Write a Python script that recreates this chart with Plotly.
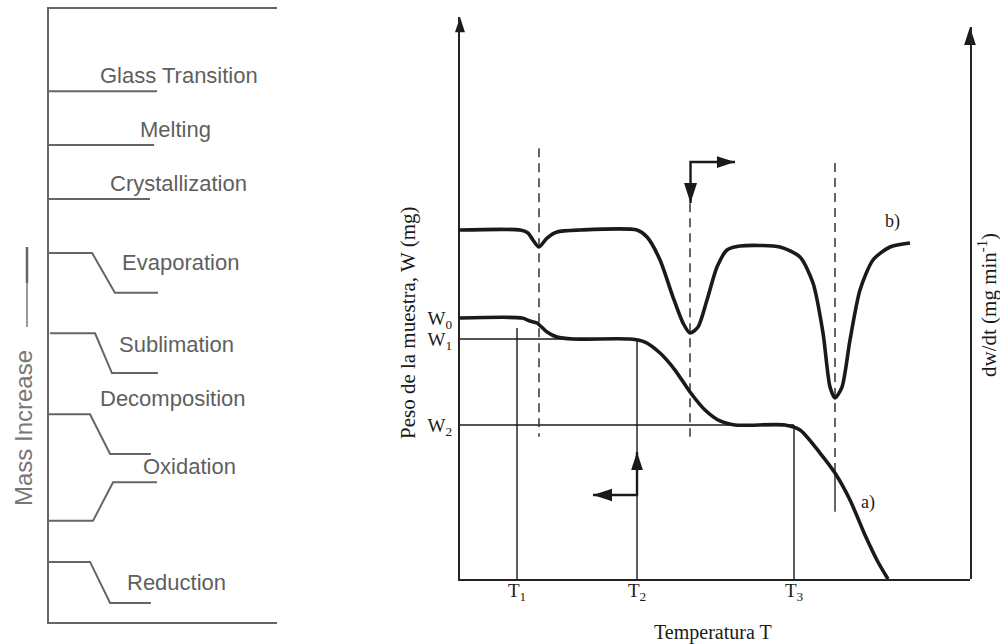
import plotly.graph_objects as go

# ---------------- left panel: idealised TG step shapes ----------------
# temperature axis 0-100, mass axis 0-100 (schematic units)
glass_T = [0, 47.4];              glass_m = [86.6, 86.6]
melting_T = [0, 46.1];            melting_m = [77.8, 77.8]
cryst_T = [0, 44.3];              cryst_m = [69.0, 69.0]
evap_T = [0, 18.9, 28.9, 47.8];   evap_m = [60.2, 60.2, 53.7, 53.7]
subl_T = [0.4, 20.2, 27.6, 47.8]; subl_m = [47.1, 47.1, 40.6, 40.6]
decomp_T = [0, 18.0, 26.8, 44.7]; decomp_m = [33.9, 33.9, 27.4, 27.4]
oxid_T = [0, 19.3, 28.1, 47.4];   oxid_m = [16.5, 16.5, 22.8, 22.8]
red_T = [0, 18.0, 26.8, 44.7];    red_m = [9.8, 9.8, 3.1, 3.1]

step_names = ["Glass Transition", "Melting", "Crystallization", "Evaporation",
              "Sublimation", "Decomposition", "Oxidation", "Reduction"]
step_label_T = [57.0, 55.3, 56.6, 57.5, 56.1, 54.4, 61.8, 56.1]
step_label_m = [89.1, 80.3, 71.6, 58.7, 45.2, 36.5, 25.4, 6.4]

# ---------------- right panel: TG curve a) and DTG curve b) ----------------
tg_T = [0, 12.16, 13.73, 15.1, 17.06, 19.0, 22.2, 33.33, 36.27, 39.22, 42.16,
        45.10, 48.04, 50.98, 53.92, 63.73, 66.67, 70.59, 73.53, 76.47, 79.41,
        81.96, 83.92]
tg_W = [47.37, 47.37, 46.82, 46.46, 44.83, 43.92, 43.56, 43.56, 43.01, 41.02,
        37.93, 33.94, 30.67, 28.68, 27.95, 27.95, 27.04, 22.87, 19.24, 14.34,
        7.99, 3.09, 0]

dtg_T = [0, 11.76, 13.33, 14.31, 15.49, 17.06, 19.02, 23.53, 34.71, 36.67,
         39.22, 41.76, 43.73, 45.10, 46.67, 48.43, 50.39, 52.35, 54.90, 62.75,
         66.67, 69.22, 71.18, 72.55, 73.53, 74.90, 76.47, 78.43, 80.98, 84.31,
         88.24]
dtg_V = [0, 0, -0.027, -0.091, -0.154, -0.073, -0.018, 0, 0, -0.064,
         -0.272, -0.608, -0.844, -0.935, -0.880, -0.635, -0.336, -0.181, -0.145,
         -0.154, -0.245, -0.481, -0.935, -1.425, -1.524, -1.425, -0.998, -0.544,
         -0.272, -0.154, -0.118]

# characteristic temperatures / weights
T_marks = [11.18, 34.71, 65.49]
T_labels = ["T<sub>1</sub>", "T<sub>2</sub>", "T<sub>3</sub>"]
W_marks = [47.37, 43.56, 27.95]
W_labels = ["W<sub>0</sub>", "W<sub>1</sub>", "W<sub>2</sub>"]
W_line_end = [34.71, 65.49]          # W1 and W2 guide lines run to T2 and T3
T_line_top = [45.55, 43.56, 27.95]   # top of the T1, T2, T3 guide lines

# DTG peak temperatures with dashed guide extents
peak_T = [15.49, 45.10, 73.53]
peak_top = [78.2, 68.2, 75.5]
peak_bottom = [25.8, 25.8, 19.8]
peak3_tick = [19.8, 12.2]

# direction arrows: corner point and the two tips
arrow_dtg = dict(T=45.2, W=75.68, T_tip=53.92, W_tip=68.24)
arrow_tg = dict(T=34.71, W=15.25, T_tip=26.08, W_tip=23.05)

W_RANGE = [0, 102]
V_RANGE = [-3.167, 1.842]

SANS = "Liberation Sans, Arial, sans-serif"
SERIF = "Liberation Serif, Times New Roman, serif"
GREY = "#5f5f5f"
INK = "#1a1a1a"
CLEAR = "rgba(0,0,0,0)"

fig = go.Figure()


def line(x, y, xa="x", ya="y", color=INK, width=2, dash=None, shape="linear"):
    fig.add_trace(go.Scatter(x=x, y=y, xaxis=xa, yaxis=ya, mode="lines",
                             line=dict(color=color, width=width, dash=dash,
                                       shape=shape, smoothing=0.7),
                             hoverinfo="skip", showlegend=False))


def arrowhead(x, y, angle, size, xa="x2", ya="y2"):
    fig.add_trace(go.Scatter(x=[x], y=[y], xaxis=xa, yaxis=ya, mode="markers",
                             marker=dict(symbol="arrow", angle=angle, size=size,
                                         color=INK, line=dict(width=0)),
                             cliponaxis=False, hoverinfo="skip", showlegend=False))


# left panel step curves
for xs, ys in [(glass_T, glass_m), (melting_T, melting_m), (cryst_T, cryst_m),
               (evap_T, evap_m), (subl_T, subl_m), (decomp_T, decomp_m),
               (oxid_T, oxid_m), (red_T, red_m)]:
    line(xs, ys, color="#666666", width=2)

# right panel guide lines
line([0, W_line_end[0]], [W_marks[1]] * 2, "x2", "y2", width=1.4)
line([0, W_line_end[1]], [W_marks[2]] * 2, "x2", "y2", width=1.4)
for t, top in zip(T_marks, T_line_top):
    line([t, t], [0, top], "x2", "y2", width=1.4)
for t, top, bot in zip(peak_T, peak_top, peak_bottom):
    line([t, t], [top, bot], "x2", "y2", color="#333333", width=1.5, dash="9px,6px")
line([peak_T[2], peak_T[2]], peak3_tick, "x2", "y2", color="#333333", width=1.5)

# curves
line(tg_T, tg_W, "x2", "y2", width=3.6, shape="spline")
line(dtg_T, dtg_V, "x2", "y3", width=3.6, shape="spline")

# direction arrows
line([arrow_dtg["T"], arrow_dtg["T"], arrow_dtg["T_tip"]],
     [arrow_dtg["W_tip"], arrow_dtg["W"], arrow_dtg["W"]], "x2", "y2", width=2.4)
arrowhead(arrow_dtg["T"], arrow_dtg["W_tip"], 180, 21)
arrowhead(arrow_dtg["T_tip"], arrow_dtg["W"], 90, 19)
line([arrow_tg["T_tip"], arrow_tg["T"], arrow_tg["T"]],
     [arrow_tg["W"], arrow_tg["W"], arrow_tg["W_tip"]], "x2", "y2", width=2.4)
arrowhead(arrow_tg["T"], arrow_tg["W_tip"], 0, 19)
arrowhead(arrow_tg["T_tip"], arrow_tg["W"], 270, 20)

# axis arrow tips
arrowhead(0, W_RANGE[1], 0, 16)
arrowhead(100, V_RANGE[1], 0, 19, ya="y3")

annotations = []
for name, t, m in zip(step_names, step_label_T, step_label_m):
    annotations.append(dict(text=name, x=t, y=m, xref="x", yref="y",
                            showarrow=False, xanchor="center", yanchor="middle",
                            font=dict(family=SANS, size=22, color=GREY)))


def note(text, x, y, size, angle=0, color=INK, family=SERIF, xref="paper", yref="paper"):
    annotations.append(dict(text=text, x=x, y=y, xref=xref, yref=yref, textangle=angle,
                            showarrow=False, xanchor="center", yanchor="middle",
                            font=dict(family=family, size=size, color=color)))


note("Mass Increase", 0.023, 0.3354, 24, -90, "#777777", SANS)
note("Peso de la muestra, W (mg)", 0.408, 0.4984, 21, -90)
note("dw/dt (mg min<sup>-1</sup>)", 0.988, 0.5264, 21, -90)
note("Temperatura T", 0.713, 0.0186, 20)
note("a)", 80.0, 13.8, 18, xref="x2", yref="y2")
note("b)", 84.9, 64.8, 18, xref="x2", yref="y2")

shapes = [
    dict(type="line", xref="paper", yref="paper", x0=0.027, x1=0.027,
         y0=0.6165, y1=0.5606, line=dict(color="#666666", width=2.5)),
    dict(type="line", xref="paper", yref="paper", x0=0.027, x1=0.027,
         y0=0.5606, y1=0.4922, line=dict(color="#777777", width=1.5)),
]

fig.update_layout(
    width=1000, height=644, margin=dict(l=0, r=0, t=0, b=0),
    paper_bgcolor="white", plot_bgcolor=CLEAR, showlegend=False,
    annotations=annotations, shapes=shapes,
    xaxis=dict(domain=[0.049, 0.277], range=[0, 100], showline=True, mirror=True,
               linecolor="#666666", linewidth=2, showgrid=False, zeroline=False,
               showticklabels=False, ticks=""),
    yaxis=dict(domain=[0.03416, 0.98602], range=[0, 100], showline=True,
               linecolor="#666666", linewidth=2, showgrid=False, zeroline=False,
               showticklabels=False, ticks=""),
    xaxis2=dict(domain=[0.46, 0.97], range=[0, 100], anchor="y2", showline=True,
                linecolor="#222222", linewidth=2, showgrid=False, zeroline=False,
                tickvals=T_marks, ticktext=T_labels, ticks="",
                ticklabelstandoff=-7,
                tickfont=dict(family=SERIF, size=19, color=INK)),
    yaxis2=dict(domain=[0.1009, 0.9736], range=W_RANGE, anchor="x2", showline=True,
                linecolor="#222222", linewidth=2, showgrid=False, zeroline=False,
                tickvals=W_marks, ticktext=W_labels, ticks="",
                ticklabelstandoff=2,
                tickfont=dict(family=SERIF, size=19, color=INK)),
    yaxis3=dict(domain=[0.1009, 0.958], range=V_RANGE, anchor="x2",
                side="right", showline=True, linecolor="#222222",
                linewidth=2, showgrid=False, zeroline=False, showticklabels=False,
                ticks=""),
)

fig.write_html("out.html")
